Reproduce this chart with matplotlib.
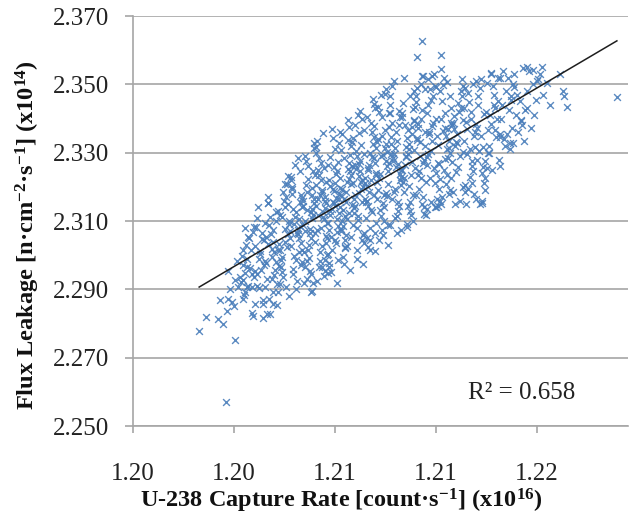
import numpy as np
import matplotlib
matplotlib.use('Agg')
import matplotlib.pyplot as plt
from matplotlib.ticker import FormatStrFormatter

plt.rcParams['font.family'] = ['Liberation Serif', 'DejaVu Serif']
plt.rcParams['mathtext.default'] = 'regular'

# (capture rate x1e16, flux leakage x1e14)
tail_pts = [
    (1.20262, 2.2779), (1.20288, 2.2820), (1.20338, 2.2813), (1.20358, 2.2799), (1.20404, 2.2753),
    (1.20367, 2.2569), (1.20378, 2.2872), (1.20401, 2.2852), (1.20372, 2.2838), (1.20437, 2.2872),
    (1.20444, 2.2891), (1.20417, 2.2906), (1.20450, 2.2906), (1.20471, 2.2906), (1.20490, 2.2911),
    (1.20523, 2.2906), (1.20516, 2.2857), (1.20530, 2.2828), (1.20516, 2.2816), (1.20556, 2.2857),
    (1.20556, 2.2891), (1.20549, 2.2931), (1.20483, 2.2955), (1.20450, 2.2965), (1.20471, 2.2945),
    (1.20437, 2.2926), (1.20423, 2.2935), (1.20378, 2.2955), (1.20411, 2.2984), (1.20437, 2.3014),
    (1.20457, 2.3053), (1.20480, 2.3082), (1.20533, 2.3152), (1.20602, 2.3209), (1.20404, 2.2926),
    (1.20385, 2.2901), (1.20345, 2.2870), (1.20393, 2.2862),
]

core_left = [
    (1.20434, 2.2972), (1.20468, 2.3015), (1.20445, 2.2948), (1.20460, 2.3050), (1.20429, 2.2921),
    (1.20453, 2.2990), (1.20475, 2.3068), (1.20439, 2.2884), (1.20464, 2.2961), (1.20448, 2.3031),
    (1.20472, 2.2832), (1.20431, 2.2998), (1.20456, 2.2910), (1.20442, 2.3079),
    (1.20506, 2.2958), (1.20487, 2.3082), (1.20520, 2.3043), (1.20479, 2.2935), (1.20501, 2.3004),
    (1.20514, 2.2869), (1.20492, 2.3110), (1.20524, 2.2984), (1.20483, 2.3026), (1.20497, 2.2903),
    (1.20510, 2.3065), (1.20477, 2.2822), (1.20518, 2.2970), (1.20495, 2.3140), (1.20503, 2.3012),
    (1.20485, 2.2857), (1.20512, 2.3048), (1.20490, 2.2946), (1.20522, 2.3093), (1.20499, 2.2990),
    (1.20547, 2.3062), (1.20571, 2.2915), (1.20534, 2.3152), (1.20560, 2.3009), (1.20539, 2.2872),
    (1.20565, 2.3101), (1.20526, 2.2978), (1.20553, 2.3040), (1.20542, 2.2828), (1.20568, 2.3126),
    (1.20531, 2.2931), (1.20556, 2.3075), (1.20549, 2.3018), (1.20573, 2.2891), (1.20536, 2.3170),
    (1.20562, 2.2957), (1.20528, 2.3053), (1.20551, 2.2996), (1.20544, 2.3112), (1.20569, 2.2855),
    (1.20533, 2.3034), (1.20558, 2.2942), (1.20540, 2.3088), (1.20566, 2.2980),
    (1.20614, 2.3063), (1.20587, 2.2985), (1.20601, 2.3141), (1.20576, 2.3014), (1.20610, 2.3207),
    (1.20593, 2.2936), (1.20619, 2.3092), (1.20582, 2.3014), (1.20605, 2.2906), (1.20597, 2.3160),
    (1.20622, 2.3050), (1.20579, 2.2968), (1.20591, 2.3112), (1.20613, 2.3233), (1.20585, 2.2965),
    (1.20603, 2.3078), (1.20618, 2.2880), (1.20575, 2.3130), (1.20608, 2.3025), (1.20595, 2.3186),
    (1.20588, 2.2950), (1.20616, 2.3100), (1.20600, 2.3040), (1.20581, 2.2915), (1.20612, 2.3150),
    (1.20590, 2.2995), (1.20621, 2.3070), (1.20584, 2.3118), (1.20606, 2.3170), (1.20578, 2.3032),
    (1.20640, 2.3113), (1.20657, 2.3009), (1.20628, 2.3200), (1.20668, 2.3166), (1.20649, 2.3065),
    (1.20634, 2.2945), (1.20662, 2.3245), (1.20644, 2.3127), (1.20625, 2.3028), (1.20671, 2.2980),
    (1.20653, 2.3285), (1.20637, 2.3090), (1.20665, 2.2970), (1.20631, 2.3180), (1.20659, 2.3049),
    (1.20646, 2.2901), (1.20670, 2.3141), (1.20626, 2.3220), (1.20652, 2.3075), (1.20638, 2.2997),
    (1.20663, 2.3157), (1.20633, 2.2960), (1.20656, 2.3107), (1.20642, 2.3263), (1.20667, 2.3037),
    (1.20629, 2.3195), (1.20648, 2.2925), (1.20660, 2.3085), (1.20635, 2.3135), (1.20669, 2.3015),
    (1.20624, 2.3230), (1.20654, 2.3061), (1.20645, 2.2987), (1.20666, 2.3175),
    (1.20675, 2.3143), (1.20700, 2.3065), (1.20719, 2.3235), (1.20687, 2.2983), (1.20710, 2.3110),
    (1.20681, 2.3290), (1.20696, 2.3030), (1.20715, 2.3165), (1.20705, 2.2945), (1.20684, 2.3205),
    (1.20673, 2.3087), (1.20713, 2.2919), (1.20692, 2.3260), (1.20707, 2.3135), (1.20678, 2.3010),
    (1.20718, 2.3315), (1.20699, 2.3077), (1.20690, 2.3185), (1.20682, 2.2965), (1.20717, 2.3153),
    (1.20703, 2.3050), (1.20694, 2.3223), (1.20676, 2.2920), (1.20711, 2.3118), (1.20686, 2.3275),
    (1.20720, 2.3040), (1.20708, 2.3175), (1.20697, 2.2993), (1.20680, 2.3100), (1.20714, 2.3247),
    (1.20688, 2.3133), (1.20701, 2.2955), (1.20709, 2.3197), (1.20683, 2.3070), (1.20716, 2.3329),
    (1.20691, 2.3015), (1.20674, 2.3160), (1.20706, 2.3125),
]

core_mid = [
    (1.20728, 2.3075), (1.20762, 2.3160), (1.20739, 2.3010), (1.20754, 2.3125), (1.20723, 2.3317),
    (1.20747, 2.3185), (1.20769, 2.3050), (1.20733, 2.3250), (1.20758, 2.3105), (1.20742, 2.2983),
    (1.20766, 2.3213), (1.20725, 2.3143), (1.20750, 2.3027), (1.20736, 2.3283), (1.20760, 2.3170),
    (1.20730, 2.2925), (1.20768, 2.3095), (1.20745, 2.3220), (1.20752, 2.3357), (1.20722, 2.3065),
    (1.20764, 2.3153), (1.20738, 2.2965), (1.20756, 2.3255), (1.20732, 2.3117), (1.20748, 2.3190),
    (1.20767, 2.3000), (1.20726, 2.3300), (1.20743, 2.3080), (1.20761, 2.3137), (1.20735, 2.3235),
    (1.20755, 2.2940), (1.20741, 2.3175), (1.20765, 2.3035), (1.20729, 2.3335), (1.20751, 2.3113),
    (1.20724, 2.3205), (1.20759, 2.2985), (1.20746, 2.3270), (1.20763, 2.3055), (1.20734, 2.3165),
    (1.20800, 2.3045), (1.20781, 2.3201), (1.20814, 2.3123), (1.20773, 2.3265), (1.20795, 2.3153),
    (1.20808, 2.3067), (1.20786, 2.3135), (1.20818, 2.3225), (1.20777, 2.2977), (1.20791, 2.3343),
    (1.20804, 2.3167), (1.20771, 2.3095), (1.20812, 2.3273), (1.20789, 2.3015), (1.20797, 2.3189),
    (1.20779, 2.3117), (1.20806, 2.3245), (1.20784, 2.3053), (1.20816, 2.3327), (1.20793, 2.3157),
    (1.20775, 2.2965), (1.20801, 2.3210), (1.20810, 2.3085), (1.20782, 2.3287), (1.20798, 2.3143),
    (1.20772, 2.3003), (1.20815, 2.3179), (1.20788, 2.3370), (1.20803, 2.3037), (1.20778, 2.3221),
    (1.20809, 2.3107), (1.20794, 2.3257), (1.20785, 2.2950), (1.20817, 2.3163), (1.20776, 2.3073),
    (1.20799, 2.3311), (1.20790, 2.3195), (1.20813, 2.2987), (1.20780, 2.3129), (1.20805, 2.3237),
    (1.20841, 2.3115), (1.20865, 2.3053), (1.20828, 2.3193), (1.20854, 2.3375), (1.20833, 2.3085),
    (1.20859, 2.3245), (1.20820, 2.3140), (1.20847, 2.3027), (1.20836, 2.3283), (1.20862, 2.3207),
    (1.20825, 2.3070), (1.20850, 2.3337), (1.20843, 2.3155), (1.20867, 2.3261), (1.20830, 2.2995),
    (1.20856, 2.3123), (1.20822, 2.3307), (1.20845, 2.3185), (1.20838, 2.3043), (1.20863, 2.3235),
    (1.20827, 2.3100), (1.20852, 2.3397), (1.20834, 2.3165), (1.20860, 2.2957), (1.20848, 2.3213),
    (1.20823, 2.3077), (1.20857, 2.3270), (1.20831, 2.3133), (1.20864, 2.3320), (1.20839, 2.3020),
    (1.20819, 2.3197), (1.20853, 2.3251), (1.20846, 2.3105), (1.20829, 2.3355), (1.20866, 2.3147),
    (1.20835, 2.2975), (1.20855, 2.3223), (1.20842, 2.3060), (1.20861, 2.3293), (1.20824, 2.3175),
    (1.20908, 2.3045), (1.20881, 2.3263), (1.20895, 2.3183), (1.20870, 2.3343), (1.20904, 2.3215),
    (1.20887, 2.3080), (1.20913, 2.3367), (1.20876, 2.3165), (1.20899, 2.3247), (1.20891, 2.3115),
    (1.20916, 2.3295), (1.20873, 2.3210), (1.20885, 2.3015), (1.20907, 2.3400), (1.20879, 2.3145),
    (1.20897, 2.3277), (1.20912, 2.3060), (1.20869, 2.3330), (1.20902, 2.3193), (1.20889, 2.3103),
    (1.20882, 2.3253), (1.20910, 2.2973), (1.20894, 2.3357), (1.20875, 2.3137), (1.20906, 2.3220),
    (1.20884, 2.3305), (1.20915, 2.3035), (1.20878, 2.3175), (1.20900, 2.3421), (1.20872, 2.3087),
    (1.20893, 2.3267), (1.20911, 2.3200), (1.20886, 2.2990), (1.20903, 2.3323), (1.20877, 2.3123),
    (1.20896, 2.3233), (1.20914, 2.3065), (1.20880, 2.3380), (1.20905, 2.3155), (1.20888, 2.3290),
    (1.20934, 2.3265), (1.20951, 2.3325), (1.20922, 2.3155), (1.20962, 2.3240), (1.20943, 2.3387),
    (1.20928, 2.3160), (1.20956, 2.3283), (1.20938, 2.3015), (1.20919, 2.3210), (1.20965, 2.3330),
    (1.20947, 2.3127), (1.20931, 2.3250), (1.20959, 2.3065), (1.20925, 2.3405), (1.20953, 2.3175),
    (1.20940, 2.3300), (1.20964, 2.3095), (1.20920, 2.3227), (1.20946, 2.3360), (1.20932, 2.3145),
    (1.20957, 2.3270), (1.20927, 2.3050), (1.20950, 2.3457), (1.20936, 2.3185), (1.20961, 2.3313),
    (1.20923, 2.3110), (1.20942, 2.3220), (1.20954, 2.3377), (1.20929, 2.3023), (1.20963, 2.3235),
    (1.20918, 2.3165), (1.20948, 2.3287), (1.20939, 2.3080), (1.20960, 2.3430), (1.20926, 2.3203),
    (1.20955, 2.3345), (1.20944, 2.3133), (1.20930, 2.3255),
    (1.20969, 2.3340), (1.20994, 2.3175), (1.21013, 2.3415), (1.20981, 2.3290), (1.21004, 2.3173),
    (1.20975, 2.3420), (1.20990, 2.3060), (1.21009, 2.3247), (1.20999, 2.3365), (1.20978, 2.3133),
    (1.20967, 2.3215), (1.21007, 2.3303), (1.20986, 2.3073), (1.21001, 2.3487), (1.20972, 2.3190),
    (1.21012, 2.3270), (1.20993, 2.3100), (1.20984, 2.3350), (1.20976, 2.3227), (1.21011, 2.3030),
    (1.20997, 2.3315), (1.20988, 2.3153), (1.20970, 2.3435), (1.21005, 2.3260), (1.20980, 2.3115),
    (1.21014, 2.3375), (1.21002, 2.3183), (1.20991, 2.3293), (1.20974, 2.3045), (1.21008, 2.3207),
    (1.20982, 2.3470), (1.20995, 2.3140), (1.21003, 2.3325), (1.20977, 2.3237), (1.21010, 2.3087),
    (1.20985, 2.3403), (1.20968, 2.3165), (1.21000, 2.3277),
]

core_right = [
    (1.21022, 2.3295), (1.21056, 2.3405), (1.21033, 2.3185), (1.21048, 2.3267), (1.21017, 2.3087),
    (1.21041, 2.3360), (1.21063, 2.3230), (1.21027, 2.3495), (1.21052, 2.3143), (1.21036, 2.3315),
    (1.21060, 2.3205), (1.21019, 2.3440), (1.21044, 2.3065), (1.21030, 2.3283), (1.21054, 2.3380),
    (1.21024, 2.3165), (1.21062, 2.3250), (1.21039, 2.3110), (1.21046, 2.3335), (1.21016, 2.3465),
    (1.21058, 2.3220), (1.21032, 2.3297), (1.21050, 2.3130), (1.21026, 2.3387), (1.21042, 2.3257),
    (1.21061, 2.3075), (1.21020, 2.3325), (1.21037, 2.3193), (1.21055, 2.3423), (1.21029, 2.3275),
    (1.21049, 2.3155), (1.21035, 2.3510), (1.21059, 2.3237), (1.21023, 2.3345), (1.21045, 2.3115),
    (1.21018, 2.3415),
    (1.21094, 2.3310), (1.21075, 2.3185), (1.21108, 2.3427), (1.21067, 2.3250), (1.21089, 2.3365),
    (1.21102, 2.3117), (1.21080, 2.3287), (1.21112, 2.3480), (1.21071, 2.3215), (1.21085, 2.3343),
    (1.21098, 2.3155), (1.21065, 2.3405), (1.21106, 2.3273), (1.21083, 2.3090), (1.21091, 2.3325),
    (1.21073, 2.3520), (1.21100, 2.3235), (1.21078, 2.3380), (1.21110, 2.3175), (1.21087, 2.3297),
    (1.21069, 2.3445), (1.21095, 2.3130), (1.21104, 2.3355), (1.21076, 2.3263), (1.21092, 2.3203),
    (1.21066, 2.3415), (1.21109, 2.3100), (1.21082, 2.3317), (1.21097, 2.3465), (1.21072, 2.3225),
    (1.21103, 2.3375), (1.21088, 2.3145), (1.21079, 2.3290), (1.21111, 2.3395),
    (1.21135, 2.3330), (1.21159, 2.3215), (1.21122, 2.3448), (1.21148, 2.3270), (1.21127, 2.3385),
    (1.21153, 2.3140), (1.21114, 2.3308), (1.21141, 2.3500), (1.21130, 2.3235), (1.21156, 2.3360),
    (1.21119, 2.3175), (1.21144, 2.3425), (1.21137, 2.3290), (1.21161, 2.3118), (1.21124, 2.3342),
    (1.21150, 2.3525), (1.21116, 2.3255), (1.21139, 2.3400), (1.21132, 2.3195), (1.21157, 2.3320),
    (1.21121, 2.3465), (1.21146, 2.3150), (1.21128, 2.3372), (1.21154, 2.3280), (1.21142, 2.3225),
    (1.21117, 2.3435), (1.21151, 2.3120), (1.21125, 2.3338), (1.21158, 2.3485), (1.21133, 2.3245),
    (1.21113, 2.3392), (1.21147, 2.3170),
    (1.21202, 2.3350), (1.21175, 2.3225), (1.21189, 2.3465), (1.21164, 2.3287), (1.21198, 2.3400),
    (1.21181, 2.3157), (1.21207, 2.3323), (1.21170, 2.3515), (1.21193, 2.3255), (1.21185, 2.3377),
    (1.21210, 2.3195), (1.21167, 2.3440), (1.21179, 2.3305), (1.21201, 2.3140), (1.21173, 2.3360),
    (1.21191, 2.3530), (1.21206, 2.3270), (1.21163, 2.3415), (1.21196, 2.3210), (1.21183, 2.3335),
    (1.21176, 2.3485), (1.21204, 2.3165), (1.21188, 2.3387), (1.21169, 2.3297), (1.21200, 2.3240),
    (1.21178, 2.3453), (1.21209, 2.3145), (1.21172, 2.3355), (1.21194, 2.3495), (1.21166, 2.3263),
    (1.21228, 2.3362), (1.21245, 2.3235), (1.21216, 2.3480), (1.21256, 2.3300), (1.21237, 2.3415),
    (1.21222, 2.3170), (1.21250, 2.3335), (1.21232, 2.3518), (1.21213, 2.3268), (1.21259, 2.3388),
    (1.21241, 2.3208), (1.21225, 2.3450), (1.21253, 2.3315), (1.21219, 2.3150), (1.21247, 2.3370),
    (1.21234, 2.3282), (1.21258, 2.3430), (1.21214, 2.3222), (1.21240, 2.3348), (1.21226, 2.3498),
    (1.21251, 2.3180), (1.21221, 2.3400), (1.21244, 2.3310), (1.21230, 2.3250), (1.21255, 2.3465),
    (1.21217, 2.3160), (1.21236, 2.3372), (1.21248, 2.3285),
    (1.21263, 2.3382), (1.21288, 2.3258), (1.21307, 2.3495), (1.21275, 2.3320), (1.21298, 2.3430),
    (1.21269, 2.3185), (1.21284, 2.3355), (1.21303, 2.3515), (1.21293, 2.3290), (1.21272, 2.3408),
    (1.21261, 2.3225), (1.21301, 2.3465), (1.21280, 2.3332), (1.21295, 2.3160), (1.21266, 2.3388),
    (1.21306, 2.3302), (1.21287, 2.3445), (1.21278, 2.3242), (1.21270, 2.3368), (1.21305, 2.3200),
    (1.21291, 2.3420), (1.21282, 2.3328), (1.21264, 2.3272), (1.21299, 2.3480), (1.21274, 2.3150),
    (1.21308, 2.3395),
    (1.21316, 2.3490), (1.21350, 2.3350), (1.21327, 2.3195), (1.21342, 2.3275), (1.21311, 2.3430),
    (1.21335, 2.3310), (1.21357, 2.3165), (1.21321, 2.3370), (1.21346, 2.3245), (1.21330, 2.3448),
    (1.21354, 2.3318), (1.21313, 2.3205), (1.21338, 2.3400), (1.21324, 2.3295), (1.21348, 2.3500),
    (1.21318, 2.3150), (1.21356, 2.3360), (1.21333, 2.3228), (1.21340, 2.3420), (1.21310, 2.3335),
    (1.21352, 2.3180), (1.21326, 2.3475), (1.21344, 2.3262), (1.21320, 2.3390),
    (1.21388, 2.3210), (1.21369, 2.3305), (1.21402, 2.3505), (1.21361, 2.3372), (1.21383, 2.3240),
    (1.21396, 2.3420), (1.21374, 2.3150), (1.21406, 2.3298), (1.21365, 2.3465), (1.21379, 2.3350),
    (1.21392, 2.3190), (1.21359, 2.3385), (1.21400, 2.3255), (1.21377, 2.3515), (1.21385, 2.3318),
    (1.21367, 2.3440), (1.21394, 2.3225), (1.21372, 2.3490), (1.21404, 2.3365), (1.21381, 2.3160),
    (1.21363, 2.3280), (1.21389, 2.3412),
]

upper_right = [
    (1.21429, 2.3440), (1.21453, 2.3355), (1.21416, 2.3530), (1.21442, 2.3400), (1.21421, 2.3250),
    (1.21447, 2.3450), (1.21408, 2.3320), (1.21435, 2.3365), (1.21424, 2.3495), (1.21450, 2.3280),
    (1.21413, 2.3410), (1.21438, 2.3345), (1.21431, 2.3470), (1.21455, 2.3262), (1.21418, 2.3385),
    (1.21444, 2.3520), (1.21410, 2.3300), (1.21433, 2.3430),
    (1.21496, 2.3455), (1.21469, 2.3340), (1.21483, 2.3520), (1.21458, 2.3400), (1.21492, 2.3310),
    (1.21475, 2.3480), (1.21501, 2.3372), (1.21464, 2.3540), (1.21487, 2.3425), (1.21479, 2.3355),
    (1.21504, 2.3500), (1.21461, 2.3440), (1.21473, 2.3320), (1.21495, 2.3465),
    (1.21522, 2.3470), (1.21539, 2.3380), (1.21510, 2.3530), (1.21550, 2.3335), (1.21531, 2.3450),
    (1.21516, 2.3410), (1.21544, 2.3548), (1.21526, 2.3360), (1.21507, 2.3492), (1.21553, 2.3425),
    (1.21535, 2.3395),
    (1.21559, 2.3480), (1.21586, 2.3410), (1.21568, 2.3540), (1.21594, 2.3455), (1.21576, 2.3372),
    (1.21602, 2.3515), (1.21562, 2.3430), (1.21582, 2.3500),
    (1.21611, 2.3530), (1.21625, 2.3470), (1.21638, 2.3505), (1.21652, 2.3440), (1.21618, 2.3552),
]

stray_pts = [
    (1.21146, 2.3627), (1.21125, 2.3580), (1.21221, 2.3586), (1.21221, 2.3545), (1.21146, 2.3524),
    (1.21185, 2.3524), (1.21125, 2.3489), (1.21201, 2.3492), (1.21245, 2.3506), (1.21360, 2.3509),
    (1.21419, 2.3533), (1.21455, 2.3518), (1.21560, 2.3550), (1.21584, 2.3542), (1.21691, 2.3530),
    (1.21599, 2.3509), (1.21703, 2.3480), (1.21707, 2.3465), (1.21719, 2.3433), (1.21916, 2.3462),
    (1.21536, 2.3392), (1.21504, 2.3328), (1.21380, 2.3152), (1.21197, 2.3140), (1.21166, 2.3134),
    (1.21257, 2.3190), (1.21316, 2.3184), (1.20998, 2.3471), (1.20955, 2.3442), (1.20891, 2.3410),
    (1.20820, 2.3360), (1.20958, 2.3011), (1.20839, 2.3025), (1.20808, 2.2920), (1.20709, 2.2896),
    (1.20772, 2.2949), (1.21085, 2.3081), (1.20940, 2.3043), (1.20705, 2.2893), (1.20747, 2.2965),
    (1.20688, 2.2931), (1.20760, 2.2955), (1.21342, 2.3212), (1.21386, 2.3257), (1.21394, 2.3275),
    (1.21493, 2.3328), (1.21455, 2.3346),
]

x_ticks = [1.200, 1.204, 1.208, 1.212, 1.216]
y_ticks = [2.250, 2.270, 2.290, 2.310, 2.330, 2.350, 2.370]
r2_text = 'R² = 0.658'

pts = np.array(tail_pts + core_left + core_mid + core_right + upper_right + stray_pts)
capture = pts[:, 0]
leakage = pts[:, 1]

# linear trend line over the data range
slope, icpt = np.polyfit(capture, leakage, 1)
fit_x = np.array([capture.min(), capture.max()])

grey = '#A6A6A6'
fig = plt.figure(figsize=(6.34, 5.16), dpi=100)
ax = fig.add_axes([133 / 634, 1 - 426 / 516, 495 / 634, 410 / 516])

ax.scatter(capture, leakage, marker='x', s=24, c='#4A7EBB', linewidths=1.0, alpha=0.9, zorder=3)
ax.plot(fit_x, slope * fit_x + icpt, color='#1E1E1E', lw=1.1, zorder=4)

ax.set_xlim(1.200, 1.2196)
ax.set_ylim(2.250, 2.370)
ax.set_xticks(x_ticks)
ax.set_yticks(y_ticks)
ax.xaxis.set_major_formatter(FormatStrFormatter('%.2f'))
ax.yaxis.set_major_formatter(FormatStrFormatter('%.3f'))

ax.grid(axis='y', color=grey, lw=1.2, zorder=0)
ax.set_axisbelow(True)
for s in ['top', 'right']:
    ax.spines[s].set_visible(False)
for s in ['left', 'bottom']:
    ax.spines[s].set_color(grey)
    ax.spines[s].set_linewidth(1.2)

ax.tick_params(axis='x', direction='out', length=5, width=1.2, color=grey,
               labelsize=18, pad=22, labelcolor='#222222')
ax.tick_params(axis='y', direction='out', length=6, width=1.2, color=grey,
               labelsize=18, pad=11, labelcolor='#222222')

ax.text(0.421, -0.182, 'U-238 Capture Rate [count·s$^{-1}$] (x10$^{16}$)',
        transform=ax.transAxes, ha='center', va='center',
        fontsize=17.5, fontweight='bold', color='#111111')
ax.text(-0.2125, 0.4645, 'Flux Leakage [n·cm$^{-2}$·s$^{-1}$] (x10$^{14}$)',
        transform=ax.transAxes, ha='center', va='center', rotation=90,
        fontsize=17.6, fontweight='bold', color='#111111')
ax.text(0.677, 0.08, r2_text, transform=ax.transAxes, ha='left', va='center',
        fontsize=18, color='#222222')

fig.savefig('out.png', dpi=100)
